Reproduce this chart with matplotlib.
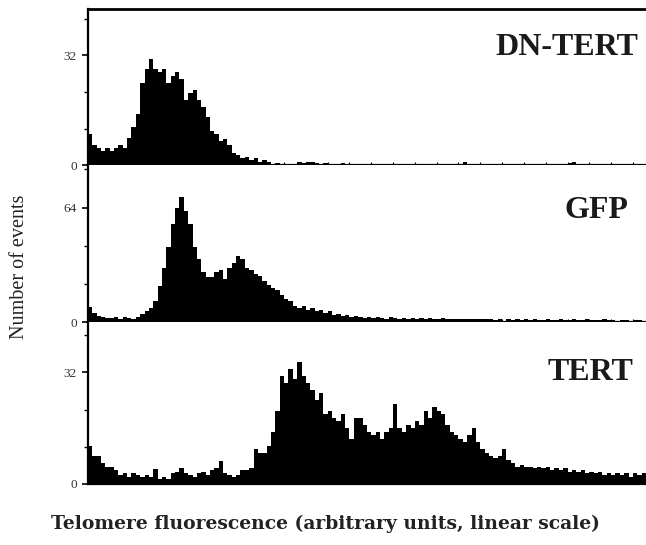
"""
Telomere fluorescence histograms for DN-TERT, GFP and TERT cells.
"""

import numpy as np
import matplotlib
matplotlib.use("Agg")
import matplotlib.pyplot as plt
from matplotlib.ticker import FixedLocator

# channel edges of the flow histograms (128 bins over 1024 channels)
edges = np.linspace(0, 1024, 129)

dn_tert = [
    9, 6, 5, 4, 5, 4, 5, 6, 5, 8, 11, 15, 24, 28, 31, 28,
    27, 28, 24, 26, 27, 25, 19, 21, 22, 19, 17, 14, 10, 9, 7, 7.5,
    6, 3.5, 3, 2, 2.5, 1.5, 2, 1, 1.5, 1, 0.4, 0.5, 0.3, 0.2, 0.4, 0.3,
    1.0, 0.6, 0.8, 1.0, 0.5, 0.4, 0.5, 0.3, 0.4, 0.3, 0.5, 0.4, 0.3, 0.2, 0.3, 0.4,
    0.3, 0.2, 0.3, 0.2, 0.1, 0.3, 0.2, 0.3, 0.2, 0.3, 0.2, 0.2, 0.3, 0.2, 0.1, 0.2,
    0.3, 0.2, 0.3, 0.2, 0.3, 0.4, 1.0, 0.3, 0.1, 0.2, 0.1, 0.0, 0.2, 0.3, 0.2, 0.3,
    0.2, 0.3, 0.2, 0.3, 0.2, 0.3, 0.2, 0.3, 0.2, 0.3, 0.2, 0.3, 0.4, 0.3, 0.6, 1.0,
    0.3, 0.2, 0.1, 0.1, 0.0, 0.2, 0.3, 0.1, 0.2, 0.3, 0.2, 0.1, 0.2, 0.3, 0.2, 0.2,
]

gfp = [
    8.5, 5, 3.5, 3, 2.5, 2.5, 3, 2, 3, 2.5, 2, 3, 4.5, 6, 8, 12,
    20, 30, 42, 55, 64, 70, 62, 55, 42, 35, 28, 25, 25, 28, 29, 24,
    30, 33, 37, 35, 30, 29, 27, 26, 23, 21, 19, 18, 15, 13, 12, 9,
    8, 9, 7, 8, 6, 7, 5, 6, 4, 4.5, 3.5, 4, 3, 3.5, 3, 2.5,
    3, 2.5, 3, 2.5, 2, 3, 2.5, 2, 2.5, 2, 2.5, 2, 2.5, 2, 2.5, 2,
    2, 2.5, 2, 1.5, 2, 2, 1.5, 2, 1.5, 1.5, 2, 1.5, 1.5, 1, 1.5, 0.5,
    1.5, 1, 1.5, 1, 1.5, 1, 1.5, 1, 1, 1.5, 1, 1, 1.5, 1, 1, 1.5,
    1, 1, 1.5, 1, 1, 1, 1.5, 1, 1, 0.8, 1, 1, 0.8, 1, 1, 0.8,
]

tert = [
    11, 8, 8, 6, 5, 5, 4, 2.5, 3, 2, 3, 2.5, 2, 2.5, 2, 4.3,
    1.5, 2, 1.5, 3, 3.5, 4.5, 3, 2.5, 2, 3, 3.5, 2.5, 4, 4.5, 6.5, 3,
    2.5, 2, 2.5, 4, 4, 4.5, 10, 9, 9, 11, 15, 21, 31, 29, 33, 30,
    35, 31, 29, 27, 24, 26, 20, 21, 19, 18, 20, 16, 13, 19, 19, 17,
    15, 14, 15, 13, 15, 16, 23, 16, 15, 17, 16, 18, 17, 21, 19, 22,
    21, 20, 17, 15, 14, 13, 12, 14, 16, 12, 10, 9, 8, 7.5, 8, 10,
    7, 6, 5, 5.5, 5, 5, 4.5, 5, 4.5, 5, 4, 4.5, 4, 4.5, 3.5, 4,
    3.5, 4, 3, 3.5, 3, 3.5, 2.5, 3, 2.5, 3, 2.5, 3, 2, 3, 2.5, 3,
]

names = ["DN-TERT", "GFP", "TERT"]
series = [dn_tert, gfp, tert]
y_tops = [45.4, 87.7, 46.4]
y_major = [32, 64, 32]
# where each panel name sits, in axes fractions
name_pos = [(0.986, 0.756), (0.968, 0.713), (0.978, 0.691)]

plt.rcParams["font.family"] = ["Liberation Serif", "DejaVu Serif"]

fig = plt.figure(figsize=(6.46, 5.45), dpi=100)

# panel boxes in figure fractions, top to bottom
boxes = [
    (0.136, 0.697, 0.864, 0.286),
    (0.136, 0.409, 0.864, 0.288),
    (0.136, 0.112, 0.864, 0.297),
]

for i, (name, counts, ytop, ymaj, box, pos) in enumerate(
        zip(names, series, y_tops, y_major, boxes, name_pos)):
    ax = fig.add_axes(box)
    ax.stairs(counts, edges, fill=True, color="black", linewidth=0)
    ax.set_xlim(0, 1024)
    ax.set_ylim(0, ytop)

    ax.yaxis.set_major_locator(FixedLocator([0, ymaj]))
    ax.yaxis.set_minor_locator(FixedLocator([ymaj / 3, 2 * ymaj / 3, 4 * ymaj / 3]))
    ax.tick_params(axis="y", which="major", direction="out", length=4,
                   width=1.2, labelsize=9.5, pad=4, labelcolor="#333333")
    ax.tick_params(axis="y", which="minor", direction="out", length=3, width=1.0)

    ax.xaxis.set_major_locator(FixedLocator(np.arange(0, 1025, 40)))
    ax.tick_params(axis="x", which="major", direction="in", length=2,
                   width=0.8, labelbottom=False)

    ax.spines["right"].set_visible(False)
    ax.spines["left"].set_linewidth(1.6)
    ax.spines["bottom"].set_linewidth(1.6)
    if i == 0:
        ax.spines["top"].set_linewidth(2.0)
    else:
        ax.spines["top"].set_visible(False)

    ax.text(pos[0], pos[1], name, transform=ax.transAxes, ha="right",
            va="center", fontsize=23, fontweight="bold", color="#1a1a1a")

fig.text(0.030, 0.510, "Number of events", rotation=90, ha="center",
         va="center", fontsize=14.5, color="#222222")
fig.text(0.503, 0.038, "Telomere fluorescence (arbitrary units, linear scale)",
         ha="center", va="center", fontsize=13.5, fontweight="bold",
         family="DejaVu Serif", color="#222222")

fig.savefig("out.png", dpi=100)
